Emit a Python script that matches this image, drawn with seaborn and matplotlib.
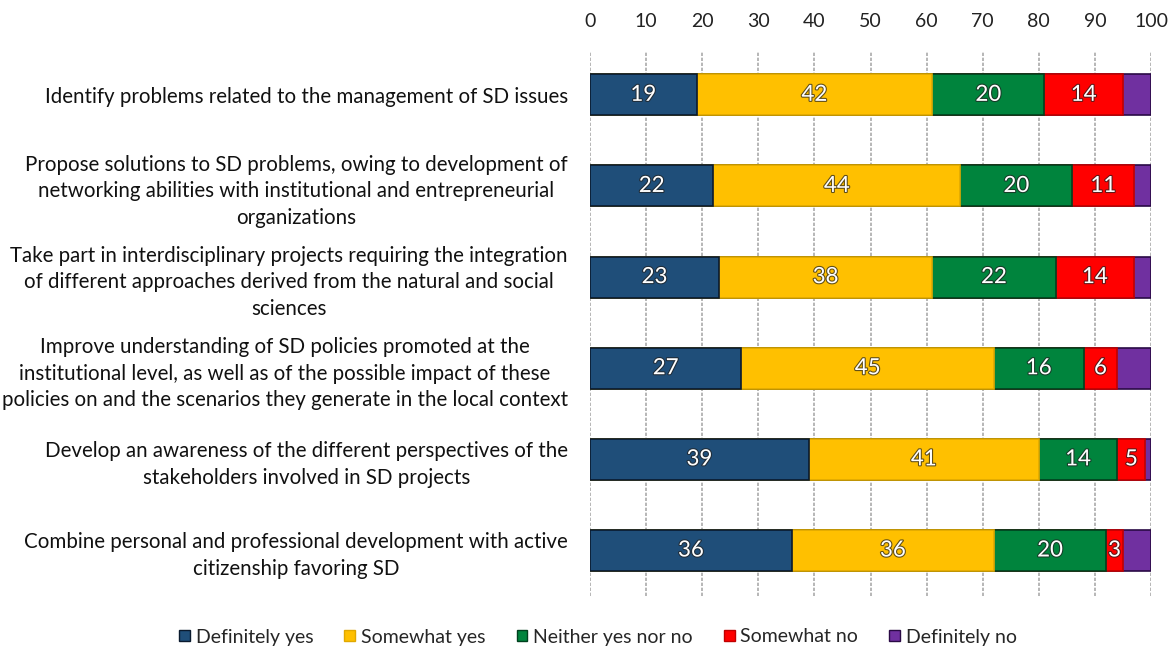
import numpy as np
import pandas as pd
import matplotlib
matplotlib.use("Agg")
import matplotlib.pyplot as plt
import matplotlib.patheffects as pe
from matplotlib.patches import Patch
import seaborn as sns

items = [
    "Identify problems related to the management of SD issues",
    "Propose solutions to SD problems, owing to development of\nnetworking abilities with institutional and entrepreneurial\norganizations",
    "Take part in interdisciplinary projects requiring the integration\nof different approaches derived from the natural and social\nsciences",
    "Improve understanding of SD policies promoted at the\ninstitutional level, as well as of the possible impact of these\npolicies on and the scenarios they generate in the local context",
    "Develop an awareness of the different perspectives of the\nstakeholders involved in SD projects",
    "Combine personal and professional development with active\ncitizenship favoring SD",
]
categories = ["Definitely yes", "Somewhat yes", "Neither yes nor no", "Somewhat no", "Definitely no"]
definitely_yes = [19, 22, 23, 27, 39, 36]
somewhat_yes = [42, 44, 38, 45, 41, 36]
neither = [20, 20, 22, 16, 14, 20]
somewhat_no = [14, 11, 14, 6, 5, 3]
definitely_no = [5, 3, 3, 6, 1, 5]
x_ticks = [0, 10, 20, 30, 40, 50, 60, 70, 80, 90, 100]

colors = ["#1F4E79", "#FFC000", "#00843D", "#FF0000", "#7030A0"]
edges = ["#0A1A2E", "#E0A800", "#00401E", "#C00000", "#2A0A45"]

sns.set_theme(style="white")
plt.rcParams["font.family"] = ["Lato", "DejaVu Sans"]

series = [definitely_yes, somewhat_yes, neither, somewhat_no, definitely_no]
df = pd.DataFrame({c: s for c, s in zip(categories, series)})
df["item"] = items
cum = df[categories].cumsum(axis=1)

fig = plt.figure(figsize=(11.76, 6.51), dpi=100)
ax = fig.add_axes([590 / 1176, 1 - 596 / 651, (1151 - 590) / 1176, (596 - 52) / 651])

# stacked bars: draw cumulative totals from the outermost segment inward
for i in range(len(categories) - 1, -1, -1):
    sns.barplot(x=cum[categories[i]], y=df["item"], orient="h", color=colors[i],
                edgecolor=edges[i], linewidth=1.2, width=0.45, ax=ax, saturation=1,
                label=categories[i], zorder=3)

# value labels for the first four segments
for i in range(4):
    vals = df[categories[i]].values
    mids = cum[categories[i]].values - vals / 2
    for r, (v, m) in enumerate(zip(vals, mids)):
        ax.text(m, r, f"{v}", ha="center", va="center", color="white", fontsize=16,
                zorder=5,
                path_effects=[pe.withStroke(linewidth=1.6, foreground="#202020", alpha=0.7)])

ax.set_xlim(0, 100)
ax.set_ylim(5.5, -0.47)
ax.set_xticks(x_ticks)
ax.xaxis.tick_top()
ax.tick_params(axis="x", length=0, pad=16, labelsize=14, colors="#222222")
ax.tick_params(axis="y", length=0, pad=16, labelsize=14.8, colors="#111111")
ax.set_yticks(range(len(items)))
ax.set_yticklabels(items, multialignment="center", linespacing=1.42)
ax.set_xlabel("")
ax.set_ylabel("")
ax.grid(axis="x", color="#AAAAAA", linestyle=(0, (2, 1)), linewidth=1.2, zorder=0)
ax.grid(axis="y", visible=False)
for s in ax.spines.values():
    s.set_visible(False)

leg_handles = [Patch(facecolor=colors[i], edgecolor=edges[i]) for i in range(5)]
ax.legend(leg_handles, categories, loc="center", bbox_to_anchor=(598 / 1176, 1 - 637 / 651),
          bbox_transform=fig.transFigure, ncol=5, frameon=False, fontsize=14,
          handlelength=0.55, handleheight=0.55, handletextpad=0.3, columnspacing=1.6)

fig.savefig("out.png", dpi=100)
